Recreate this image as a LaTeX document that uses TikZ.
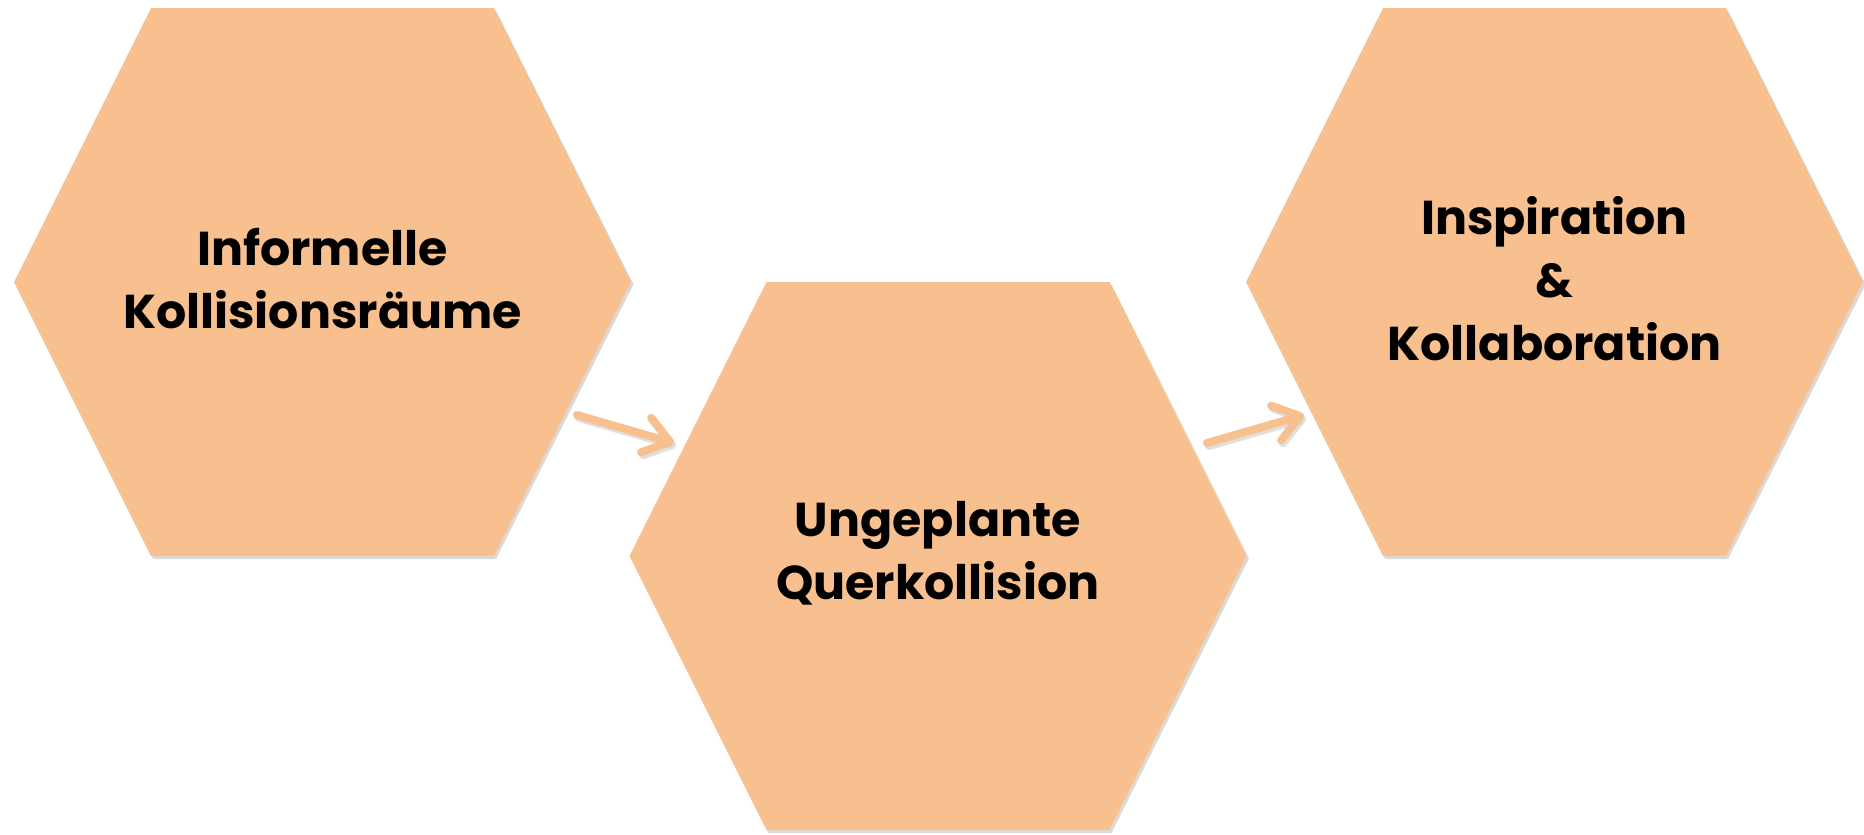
\documentclass[tikz,border=0pt]{standalone}
\usepackage{fontspec}
\setmainfont{Poppins}
\usetikzlibrary{arrows.meta}
\definecolor{peach}{RGB}{248,191,143}
\definecolor{shade}{RGB}{150,150,150}
\tikzset{
  hexfill/.style={fill=peach},
  hexshade/.style={fill=shade, opacity=0.35},
  hexagon/.pic={
    \fill[hexshade] (-306.5,2.5) -- (-169.5,-271.5) -- (173.5,-271.5) -- (311,2.5) -- (173.5,277) -- (-169.5,277) -- cycle;
    \fill[hexfill] (-308.5,0) -- (-171.5,-274) -- (171.5,-274) -- (308.5,0) -- (171.5,274) -- (-171.5,274) -- cycle;
  },
  hextext/.style={align=center, font=\fontsize{47.5}{63}\selectfont\bfseries, text=black},
  conn/.style={draw=peach, line width=8pt, line cap=round,
    -{Straight Barb[length=25pt,width=36pt,round]}},
  connshade/.style={draw=shade, opacity=0.3, line width=8pt, line cap=round,
    -{Straight Barb[length=25pt,width=36pt,round]}},
}
\begin{document}
\begin{tikzpicture}[x=1pt,y=-1pt]
  \useasboundingbox (0,0) rectangle (1864,835);
  % the three hexagons
  \pic at (322.5,282) {hexagon};
  \pic at (938,556) {hexagon};
  \pic at (1554.5,282) {hexagon};
  % their labels
  \node[hextext] (h1) at (322.5,279) {Informelle\\Kollisionsräume};
  \node[hextext] (h2) at (938,553) {Ungeplante\\Querkollision};
  \node[hextext] (h3) at (1554.5,279) {Inspiration\\\&\\Kollaboration};
  % arrow end points between the hexagons
  \coordinate (a1s) at (577,415);
  \coordinate (a1e) at (674,443);
  \coordinate (a2s) at (1207,443);
  \coordinate (a2e) at (1304,415);
  \draw[connshade] ([shift={(2,3)}]a1s) -- ([shift={(2,3)}]a1e);
  \draw[connshade] ([shift={(2,3)}]a2s) -- ([shift={(2,3)}]a2e);
  \draw[conn] (a1s) -- (a1e);
  \draw[conn] (a2s) -- (a2e);
\end{tikzpicture}
\end{document}
